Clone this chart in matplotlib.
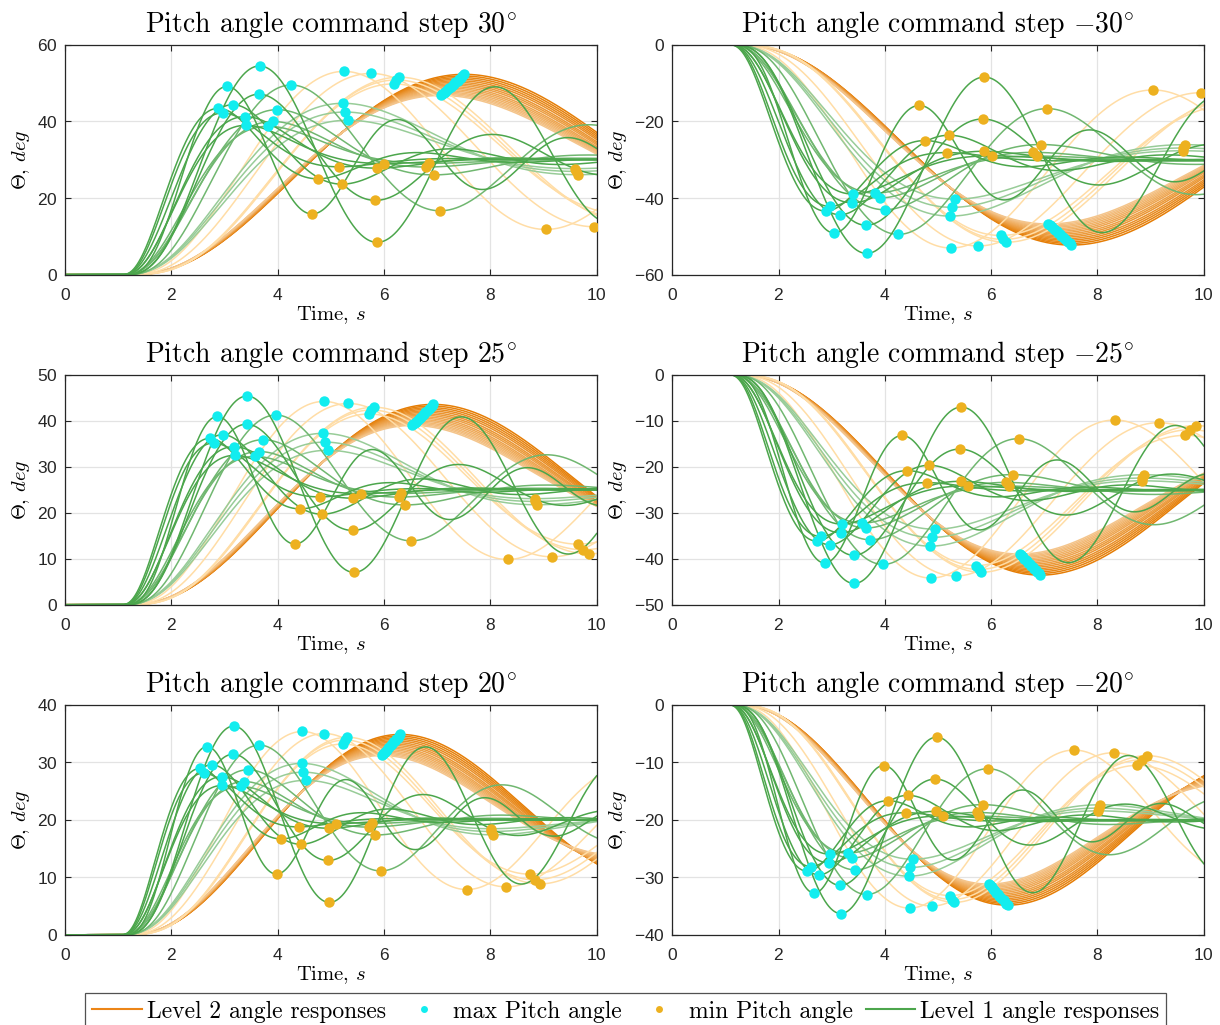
import numpy as np
import matplotlib.pyplot as plt
from matplotlib.lines import Line2D

plt.rcParams.update({
    "font.family": "serif",
    "font.serif": ["cmr10"],
    "mathtext.fontset": "cm",
    "axes.formatter.use_mathtext": True,
    "axes.unicode_minus": False,
})

# commanded pitch steps and time stretch of the response for each panel
step_cmds = [30, -30, 25, -25, 20, -20]
time_stretch = [1.0, 1.0, 0.91, 0.91, 0.815, 0.815]
y_limits = [(0, 60), (-60, 0), (0, 50), (-50, 0), (0, 40), (-40, 0)]
y_ticks = [20, 20, 10, 10, 10, 10]
t_cmd = 1.0
dead_time = 0.05

# Level 2, slow lightly damped family (outer/dark -> inner/light)
l2_slow_wn = [0.521, 0.524, 0.527, 0.530, 0.533, 0.537, 0.540, 0.543,
              0.547, 0.550, 0.553, 0.556, 0.559, 0.562, 0.565, 0.568]
l2_slow_zeta = [0.091, 0.097, 0.103, 0.109, 0.115, 0.121, 0.127, 0.133,
                0.139, 0.145, 0.151, 0.157, 0.163, 0.168, 0.173, 0.178]
l2_slow_lag = [0.2] * 16
l2_slow_lead = [0.0] * 16

# Level 2, faster pale family
l2_pale_wn = [0.83, 0.75, 0.73, 0.72, 0.71]
l2_pale_zeta = [0.075, 0.08, 0.105, 0.09, 0.08]
l2_pale_lag = [0.2, 0.25, 0.4, 0.4, 0.4]
l2_pale_lead = [0.0] * 5

# Level 1 responses: dark, medium, light shades
l1_dark_wn = [1.97, 1.76, 1.70, 1.58, 1.50, 1.45, 1.42, 1.45]
l1_dark_zeta = [0.095, 0.30, 0.50, 0.25, 0.55, 0.45, 0.04, 0.15]
l1_dark_lag = [0.2, 0.2, 0.35, 0.22, 0.45, 0.42, 0.2, 0.2]
l1_dark_lead = [0.0, 0.45, 1.05, 0.40, 1.15, 1.05, 0.0, 0.0]

l1_mid_wn = [1.30, 1.25, 1.15, 1.13]
l1_mid_zeta = [0.55, 0.45, 0.35, 0.12]
l1_mid_lag = [0.55, 0.55, 0.5, 0.2]
l1_mid_lead = [1.35, 1.2, 1.1, 0.0]

l1_light_wn = [0.82, 0.80, 0.78]
l1_light_zeta = [0.42, 0.40, 0.38]
l1_light_lag = [0.75, 0.75, 0.75]
l1_light_lead = [1.6, 1.8, 2.0]

t = np.linspace(0, 10, 2001)


def step_response(stretch, wn, zeta, lag, lead):
    # command filter (two lags) feeding a second order pitch loop with lead
    wn = np.asarray(wn, float)
    zeta = np.asarray(zeta, float)
    lag = np.asarray(lag, float)
    lead = np.asarray(lead, float)
    tau = (t - t_cmd) / stretch
    h = (t[1] - t[0]) / stretch
    x = np.zeros((4, wn.size))
    out = np.zeros((t.size, wn.size))

    def f(s, u):
        x1, x2, q, qd = s
        return np.array([(u - x1) / lag, (x1 - x2) / lag, qd,
                         wn ** 2 * (x2 - q) - 2 * zeta * wn * qd])

    for i in range(t.size):
        out[i] = x[2] + lead * x[3]
        u = 1.0 if tau[i] >= dead_time else 0.0
        k1 = f(x, u)
        k2 = f(x + h / 2 * k1, u)
        k3 = f(x + h / 2 * k2, u)
        k4 = f(x + h * k3, u)
        x = x + h / 6 * (k1 + 2 * k2 + 2 * k3 + k4)
    return out


def extrema(y):
    i = np.arange(1, y.size - 1)
    pk = i[(y[i] > y[i - 1]) & (y[i] >= y[i + 1])]
    tr = i[(y[i] < y[i - 1]) & (y[i] <= y[i + 1])]
    imax = pk[np.argmax(y[pk])] if pk.size else None
    imin = tr[np.argmin(y[tr])] if tr.size else None
    return imax, imin


def blend(c1, c2, n):
    c1 = np.array(plt.matplotlib.colors.to_rgb(c1))
    c2 = np.array(plt.matplotlib.colors.to_rgb(c2))
    return [tuple(c1 + (c2 - c1) * j / max(n - 1, 1)) for j in range(n)]


families = [
    (l2_slow_wn, l2_slow_zeta, l2_slow_lag, l2_slow_lead,
     blend("#E57D05", "#F4C58C", len(l2_slow_wn))),
    (l2_pale_wn, l2_pale_zeta, l2_pale_lag, l2_pale_lead, ["#FFDDA6"] * len(l2_pale_wn)),
    (l1_light_wn, l1_light_zeta, l1_light_lag, l1_light_lead, ["#98CC98"] * len(l1_light_wn)),
    (l1_mid_wn, l1_mid_zeta, l1_mid_lag, l1_mid_lead, ["#70B770"] * len(l1_mid_wn)),
    (l1_dark_wn, l1_dark_zeta, l1_dark_lag, l1_dark_lead, ["#4CA64C"] * len(l1_dark_wn)),
]

fig = plt.figure(figsize=(12.2, 10.25), dpi=100)
lefts = [0.0533, 0.551]
bottoms = [0.732, 0.41, 0.088]
w, hgt = 0.4357, 0.2244

for p, cmd in enumerate(step_cmds):
    ax = fig.add_axes([lefts[p % 2], bottoms[p // 2], w, hgt])
    stretch = time_stretch[p]
    amp = abs(cmd)
    sgn = np.sign(cmd)
    max_pts, min_pts = [], []
    for wn, zeta, lag, lead, colors in families:
        resp = step_response(stretch, wn, zeta, lag, lead) * amp
        for j in range(resp.shape[1]):
            y = resp[:, j]
            ax.plot(t, sgn * y, color=colors[j], lw=1.1, zorder=2)
            imax, imin = extrema(y)
            if imax is not None:
                max_pts.append((t[imax], sgn * y[imax]))
            if imin is not None:
                min_pts.append((t[imin], sgn * y[imin]))
    if max_pts:
        mx = np.array(max_pts)
        ax.plot(mx[:, 0], mx[:, 1], "o", ls="none", color="#12EDEF", ms=7.5, mec="none", zorder=4)
    if min_pts:
        mn = np.array(min_pts)
        ax.plot(mn[:, 0], mn[:, 1], "o", ls="none", color="#EDB120", ms=7.5, mec="none", zorder=4)

    ax.set_xlim(0, 10)
    ax.set_ylim(*y_limits[p])
    ax.set_xticks(np.arange(0, 11, 2))
    ax.set_yticks(np.arange(y_limits[p][0], y_limits[p][1] + 1, y_ticks[p]))
    ax.grid(True, color="#E3E3E3", lw=0.9)
    ax.set_axisbelow(True)
    ax.tick_params(direction="in", top=True, right=True, length=4, width=0.8,
                   color="#262626", labelsize=12.5, labelcolor="#262626",
                   labelfontfamily="Liberation Sans")
    ax.tick_params(axis="x", pad=8.5)
    ax.tick_params(axis="y", pad=5)
    for s in ax.spines.values():
        s.set_color("#262626")
        s.set_linewidth(0.9)
    ax.set_title(r"Pitch angle command step $%d^{\circ}$" % cmd, fontsize=20, pad=9)
    ax.set_xlabel(r"Time, $s$", fontsize=14.8, labelpad=1)
    ax.set_ylabel(r"$\Theta$, $deg$", fontsize=14.8, labelpad=4)

handles = [
    Line2D([], [], color="#EC8517", lw=1.5),
    Line2D([], [], marker="o", ls="none", color="#12EDEF", ms=5, mec="none"),
    Line2D([], [], marker="o", ls="none", color="#EDB120", ms=5, mec="none"),
    Line2D([], [], color="#4CA64C", lw=1.5),
]
labels = ["Level 2 angle responses", "max Pitch angle", "min Pitch angle",
          "Level 1 angle responses"]
leg = fig.legend(handles, labels, loc="lower center", bbox_to_anchor=(0.513, -0.016),
                 ncol=4, fontsize=17, frameon=True, fancybox=False,
                 handlelength=2.1, handletextpad=0.2, columnspacing=0.55, borderpad=0.3)
leg.get_frame().set_edgecolor("#262626")
leg.get_frame().set_linewidth(0.9)

fig.savefig("out.png", dpi=100)
